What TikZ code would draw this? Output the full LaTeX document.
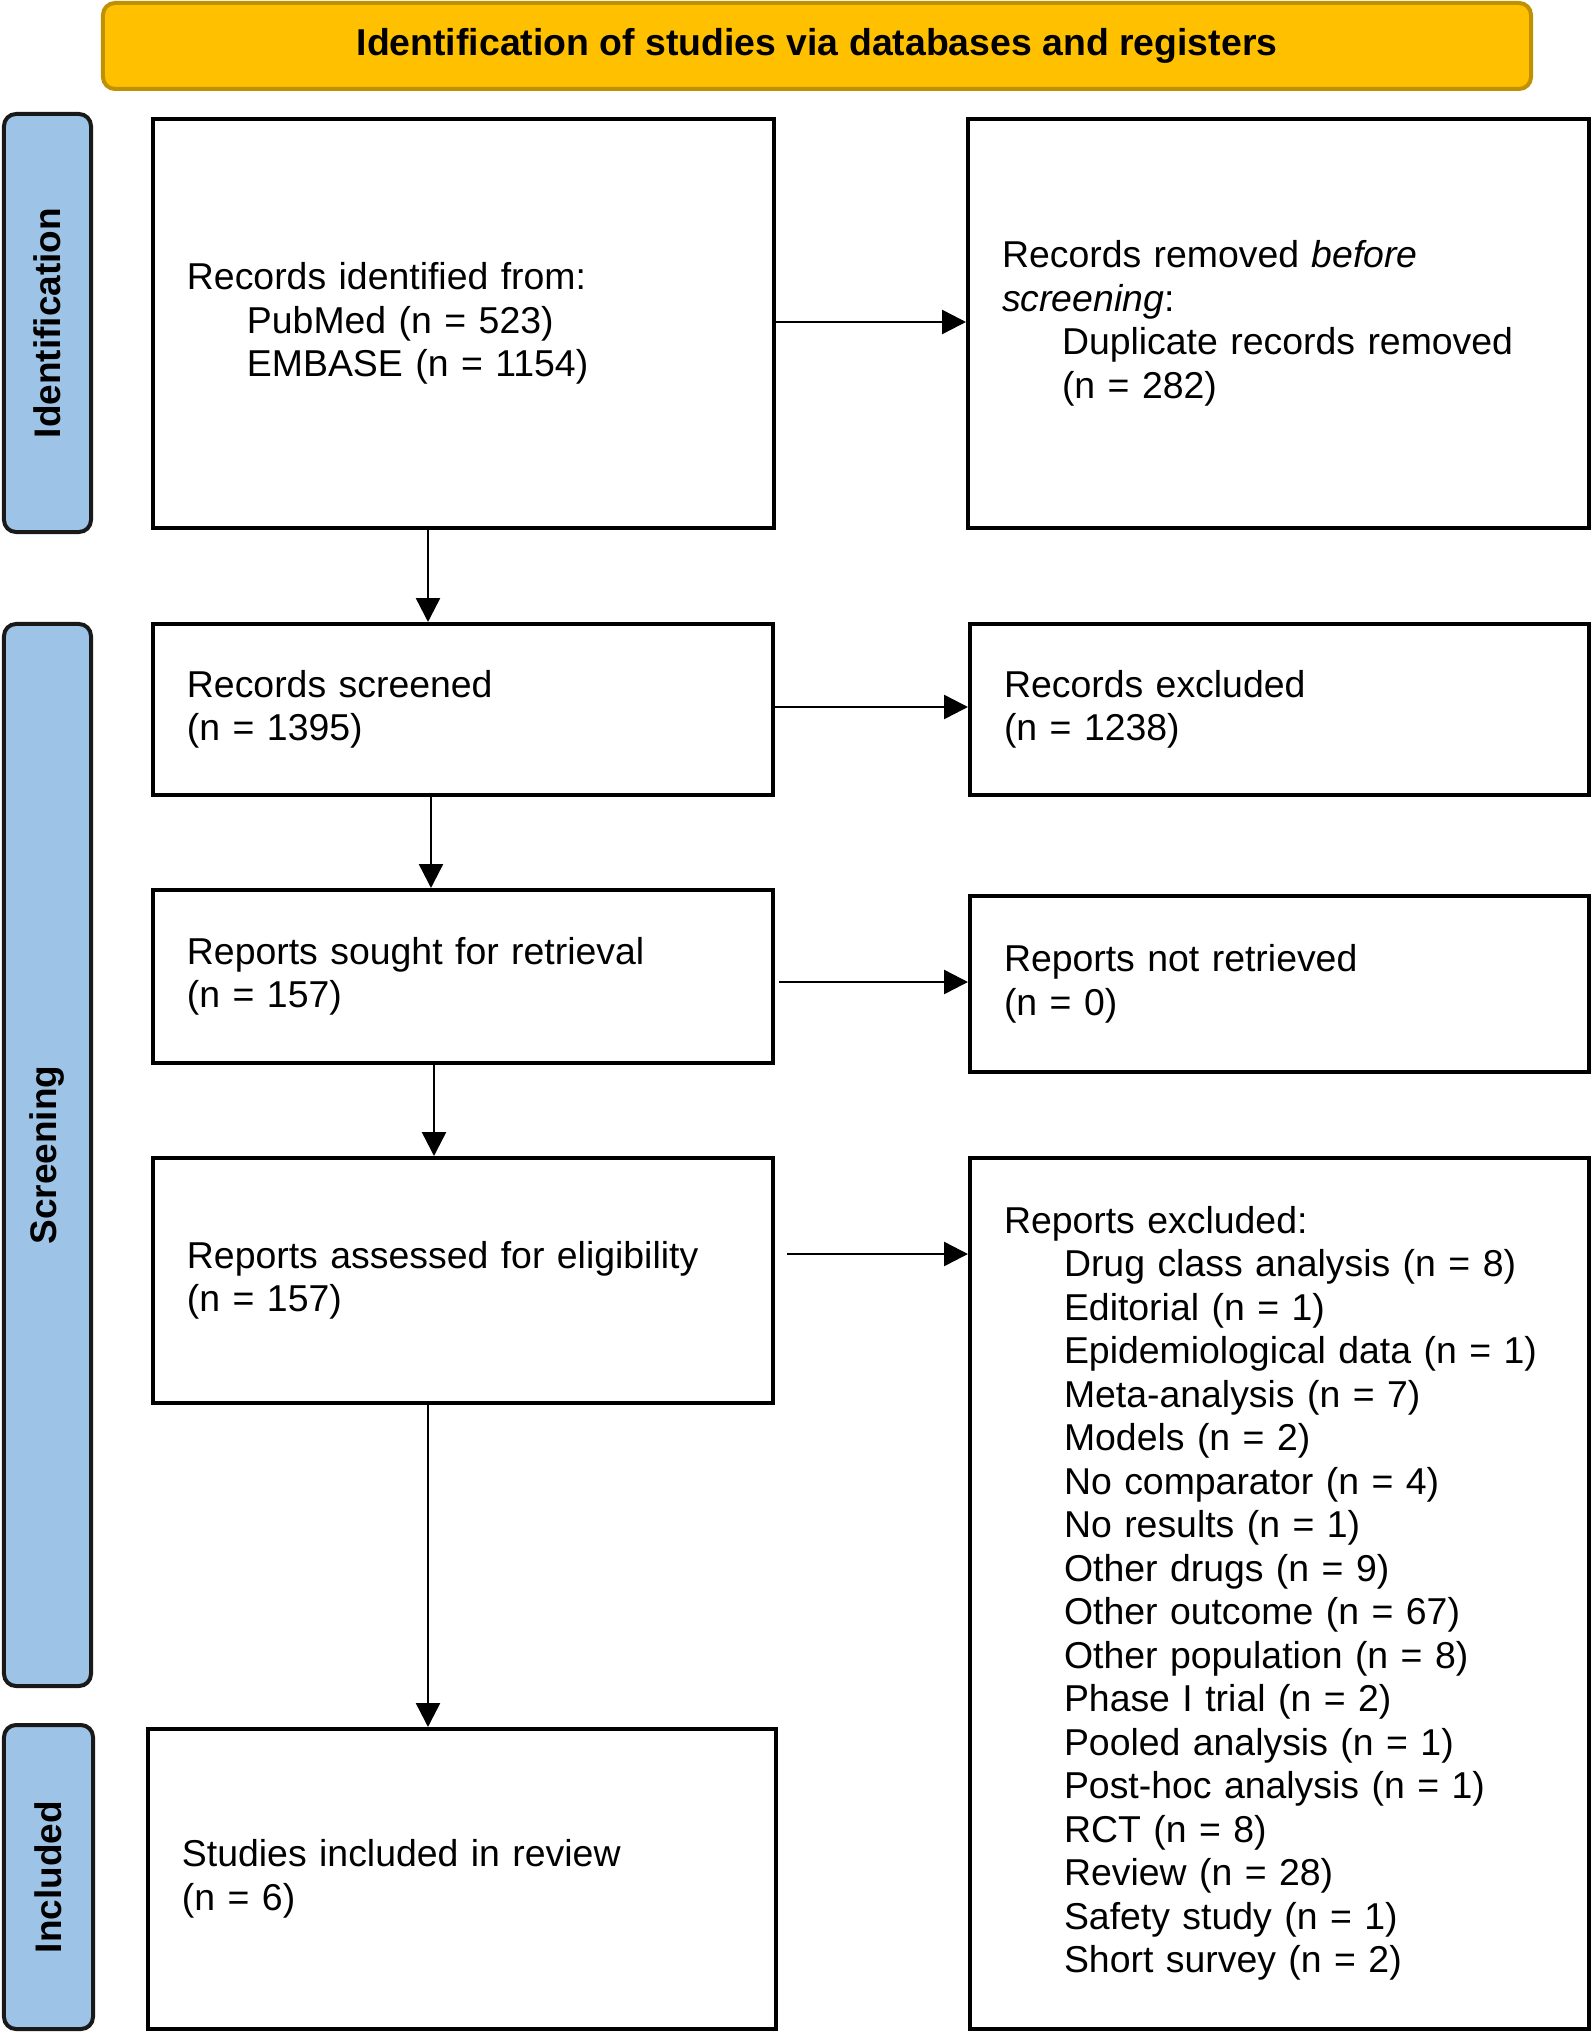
\documentclass[tikz,border=0pt]{standalone}
\usepackage{fontspec}
\setmainfont{Liberation Sans}
\usetikzlibrary{arrows.meta,calc}
\definecolor{gold}{HTML}{FFC000}
\definecolor{golddark}{HTML}{BF9000}
\definecolor{sideblue}{HTML}{9DC3E6}
\begin{document}
\begin{tikzpicture}[x=0.5bp,y=-0.5bp,
  box/.style={draw=black, line width=2bp, rectangle, inner xsep=17bp, inner ysep=0pt,
    align=left, font=\fontsize{18.7bp}{21.75bp}\selectfont, anchor=center},
  side/.style={draw=black!90, line width=2bp, fill=sideblue, rounded corners=6bp,
    font=\bfseries\fontsize{18.5bp}{22bp}\selectfont, rotate=90},
  banner/.style={draw=golddark, fill=gold, line width=2bp, rounded corners=6bp,
    font=\bfseries\fontsize{18.7bp}{22bp}\selectfont},
  arr/.style={line width=1.25bp, -{Triangle[length=12bp,width=12bp]}}
]
\useasboundingbox (0,0) rectangle (1595,2033);

% banner
\node[banner, minimum width=714bp, minimum height=43bp] (T) at (817,46)
  {Identification of studies via databases and registers};

% side labels
\node[side, minimum width=209bp, minimum height=43.5bp] (L1) at (47.5,323) {Identification};
\node[side, minimum width=531bp, minimum height=43.5bp] (L2) at (47.5,1155) {Screening};
\node[side, minimum width=152bp, minimum height=44.5bp] (L3) at (48.5,1877) {Included};

% boxes
\node[box, minimum height=204.5bp, text width=276.5bp] (B1) at (463.5,323.5)
  {Records identified from:\\\hspace*{30bp}PubMed (n = 523)\\\hspace*{30bp}EMBASE (n = 1154)};
\node[box, minimum height=204.5bp, text width=276.5bp] (R1) at (1278.5,323.5)
  {Records removed \textit{before}\\\textit{screening}:\\\hspace*{30bp}Duplicate records removed\\\hspace*{30bp}(n = 282)};
\node[box, minimum height=85.5bp, text width=276bp] (B2) at (463,709.5)
  {Records screened\\(n = 1395)};
\node[box, minimum height=85.5bp, text width=275.5bp] (R2) at (1279.5,709.5)
  {Records excluded\\(n = 1238)};
\node[box, minimum height=86.5bp, text width=276bp] (B3) at (463,976.5)
  {Reports sought for retrieval\\(n = 157)};
\node[box, minimum height=88bp, text width=275.5bp] (R3) at (1279.5,984)
  {Reports not retrieved\\(n = 0)};
\node[box, minimum height=122.5bp, text width=276bp] (B4) at (463,1280.5)
  {Reports assessed for eligibility\\(n = 157)};
\node[box, minimum height=435.5bp, text width=275.5bp] (R4) at (1279.5,1593.5)
  {Reports excluded:\\
   \hspace*{30bp}Drug class analysis (n = 8)\\
   \hspace*{30bp}Editorial (n = 1)\\
   \hspace*{30bp}Epidemiological data (n = 1)\\
   \hspace*{30bp}Meta-analysis (n = 7)\\
   \hspace*{30bp}Models (n = 2)\\
   \hspace*{30bp}No comparator (n = 4)\\
   \hspace*{30bp}No results (n = 1)\\
   \hspace*{30bp}Other drugs (n = 9)\\
   \hspace*{30bp}Other outcome (n = 67)\\
   \hspace*{30bp}Other population (n = 8)\\
   \hspace*{30bp}Phase I trial (n = 2)\\
   \hspace*{30bp}Pooled analysis (n = 1)\\
   \hspace*{30bp}Post-hoc analysis (n = 1)\\
   \hspace*{30bp}RCT (n = 8)\\
   \hspace*{30bp}Review (n = 28)\\
   \hspace*{30bp}Safety study (n = 1)\\
   \hspace*{30bp}Short survey (n = 2)};
\node[box, minimum height=150bp, text width=280bp] (B5) at (462,1879)
  {Studies included in review\\(n = 6)};

% arrow levels
\coordinate (h1) at (0,322);
\coordinate (h2) at (0,707);
\coordinate (h3) at (0,982);
\coordinate (h4) at (0,1254);
\coordinate (v1) at (428,0);
\coordinate (v2) at (431,0);
\coordinate (v3) at (434,0);

\draw[arr] (B1.east |- h1) -- (R1.west |- h1);
\draw[arr] (B1.south -| v1) -- (B2.north -| v1);
\draw[arr] (B2.east |- h2) -- (R2.west |- h2);
\draw[arr] (B2.south -| v2) -- (B3.north -| v2);
\draw[arr] ($(B3.east |- h3)+(4,0)$) -- (R3.west |- h3);
\draw[arr] (B3.south -| v3) -- (B4.north -| v3);
\draw[arr] ($(B4.east |- h4)+(12,0)$) -- (R4.west |- h4);
\draw[arr] (B4.south -| v1) -- (B5.north -| v1);
\end{tikzpicture}
\end{document}
